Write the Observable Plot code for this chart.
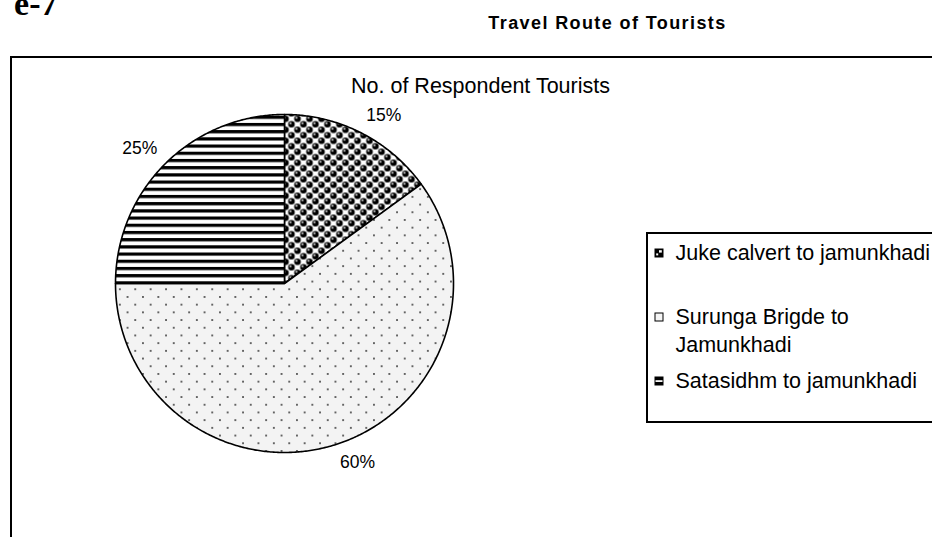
<!DOCTYPE html>
<html><head><meta charset="utf-8">
<script src="https://cdn.jsdelivr.net/npm/d3@7"></script>
<script src="https://cdn.jsdelivr.net/npm/@observablehq/plot@0.6"></script>
<style>html,body{margin:0;padding:0;background:#fff;overflow:hidden}</style>
</head><body><div id="chart"></div>
<script>
// ---- data ----
const routes = ["Juke calvert to jamunkhadi", "Surunga Brigde to Jamunkhadi", "Satasidhm to jamunkhadi"];
const shares = [15, 60, 25];
const shareLabels = ["15%", "60%", "25%"];
const legendLines = [["Juke calvert to jamunkhadi"], ["Surunga Brigde to", "Jamunkhadi"], ["Satasidhm to jamunkhadi"]];
const chartTitle = "Travel Route of Tourists";
const pieTitle = "No. of Respondent Tourists";
const figureLabel = "e-7";

// ---- layout ----
const W = 932, H = 537, cx = 284, cy = 283, R = 169, LR = 180;
const FONT = "'Liberation Sans', Arial, sans-serif";
const patterns = ["url(#pBalls)", "url(#pDots)", "url(#pStripes)"];
const swatches = ["url(#sBalls)", "url(#sDots)", "url(#sStripes)"];
const legendBase = [259, 323, 387];

const arcs = d3.pie().sort(null).value(d => d.share)(
  routes.map((r, i) => ({route: r, share: shares[i], label: shareLabels[i], i})));

const slicePts = arcs.map(a => {
  const pts = [{x: cx, y: cy}];
  const n = Math.max(2, Math.ceil((a.endAngle - a.startAngle) / (Math.PI / 360)));
  for (let k = 0; k <= n; k++) {
    const t = a.startAngle + (a.endAngle - a.startAngle) * k / n;
    pts.push({x: cx + R * Math.sin(t), y: cy - R * Math.cos(t)});
  }
  pts.push({x: cx, y: cy});
  return pts;
});

// label box placed just outside the slice, extending outward
const labelData = arcs.map(a => {
  const m = (a.startAngle + a.endAngle) / 2;
  const s = Math.sin(m), c = Math.cos(m);
  return {x: cx + LR * s + 17.5 * Math.sign(s), y: cy - LR * c - 8 * Math.sign(c), text: a.data.label};
});

const legendText = legendLines.flatMap((lines, i) => lines.map((t, j) => ({text: t, x: 675, y: legendBase[i] + j * 28})));
const legendSw = routes.map((r, i) => ({i, x1: 655, x2: 663, y1: legendBase[i] - 10, y2: legendBase[i] - 2}));

const plot = Plot.plot({
  width: W, height: H, margin: 0,
  x: {domain: [0, W], range: [0, W], axis: null},
  y: {domain: [0, H], range: [0, H], axis: null},
  style: {background: "#fff", fontFamily: FONT},
  marks: [
    Plot.rect([0], {x1: 11, x2: W + 20, y1: 57, y2: H + 20, fill: "none", stroke: "#000", strokeWidth: 2}),
    ...slicePts.map((pts, i) => Plot.line(pts, {x: "x", y: "y", fill: patterns[i], stroke: "#000", strokeWidth: 1.6, strokeLinejoin: "round"})),
    Plot.text(labelData, {x: "x", y: "y", text: "text", fontSize: 17.5, fontFamily: FONT, fill: "#000"}),
    Plot.text([pieTitle], {x: 480, y: 92, text: d => d, lineAnchor: "bottom", fontSize: 21.5, fontFamily: FONT, fill: "#000"}),
    Plot.text([chartTitle], {x: 607, y: 28, text: d => d, lineAnchor: "bottom", fontSize: 18, fontWeight: "bold", fontFamily: FONT, fill: "#000"}),
    Plot.text([figureLabel], {x: 57, y: 14, text: d => d, lineAnchor: "bottom", textAnchor: "end", fontSize: 34, fontWeight: "bold", fontFamily: "'Liberation Serif', 'Times New Roman', serif", fill: "#000"}),
    Plot.rect([0], {x1: 647, x2: W + 20, y1: 233, y2: 422, fill: "#fff", stroke: "#000", strokeWidth: 2}),
    ...legendSw.map(d => Plot.rect([d], {x1: "x1", x2: "x2", y1: "y1", y2: "y2", fill: swatches[d.i], stroke: "#000", strokeWidth: 1})),
    Plot.text(legendText, {x: "x", y: "y", text: "text", lineAnchor: "bottom", textAnchor: "start", fontSize: 21.5, fontFamily: FONT, fill: "#000"})
  ]
});

const svg = d3.select(plot);
const defs = svg.insert("defs", ":first-child");
// balls pattern
const pb = defs.append("pattern").attr("id", "pBalls").attr("patternUnits", "userSpaceOnUse").attr("width", 12).attr("height", 11);
pb.append("rect").attr("width", 12).attr("height", 11).attr("fill", "#fff");
[[3, 2.75], [9, 8.25], [-3, 8.25], [15, 2.75], [3, 13.75], [9, -2.75]].forEach(([x, y]) => {
  pb.append("circle").attr("cx", x).attr("cy", y).attr("r", 3.3).attr("fill", "#000");
  pb.append("circle").attr("cx", x - 1).attr("cy", y - 1).attr("r", 0.9).attr("fill", "#fff");
});
// dots pattern
const pd = defs.append("pattern").attr("id", "pDots").attr("patternUnits", "userSpaceOnUse").attr("width", 15.4).attr("height", 15.4);
pd.append("rect").attr("width", 15.4).attr("height", 15.4).attr("fill", "#f3f3f3");
[[3.85, 3.85], [11.55, 11.55]].forEach(([x, y]) => pd.append("circle").attr("cx", x).attr("cy", y).attr("r", 0.95).attr("fill", "#333"));
// stripes pattern
const ps = defs.append("pattern").attr("id", "pStripes").attr("patternUnits", "userSpaceOnUse").attr("width", 8).attr("height", 7.2);
ps.append("rect").attr("width", 8).attr("height", 7.2).attr("fill", "#fff");
ps.append("rect").attr("y", 0).attr("width", 8).attr("height", 3.2).attr("fill", "#000");
// swatch patterns
function sw(id) { return defs.append("pattern").attr("id", id).attr("patternUnits", "objectBoundingBox").attr("patternContentUnits", "objectBoundingBox").attr("width", 1).attr("height", 1); }
const s1 = sw("sBalls");
s1.append("rect").attr("width", 1).attr("height", 1).attr("fill", "#000");
s1.append("rect").attr("x", 0.5).attr("y", 0.15).attr("width", 0.35).attr("height", 0.3).attr("fill", "#fff");
s1.append("rect").attr("x", 0.15).attr("y", 0.55).attr("width", 0.25).attr("height", 0.25).attr("fill", "#fff");
const s2 = sw("sDots");
s2.append("rect").attr("width", 1).attr("height", 1).attr("fill", "#f5f5f5");
const s3 = sw("sStripes");
s3.append("rect").attr("width", 1).attr("height", 1).attr("fill", "#000");
s3.append("rect").attr("y", 0.4).attr("width", 1).attr("height", 0.22).attr("fill", "#fff");

svg.selectAll("text").filter(function () { return this.textContent === chartTitle; }).style("letter-spacing", "1.4px");

document.getElementById("chart").appendChild(plot);
</script>
</body></html>
